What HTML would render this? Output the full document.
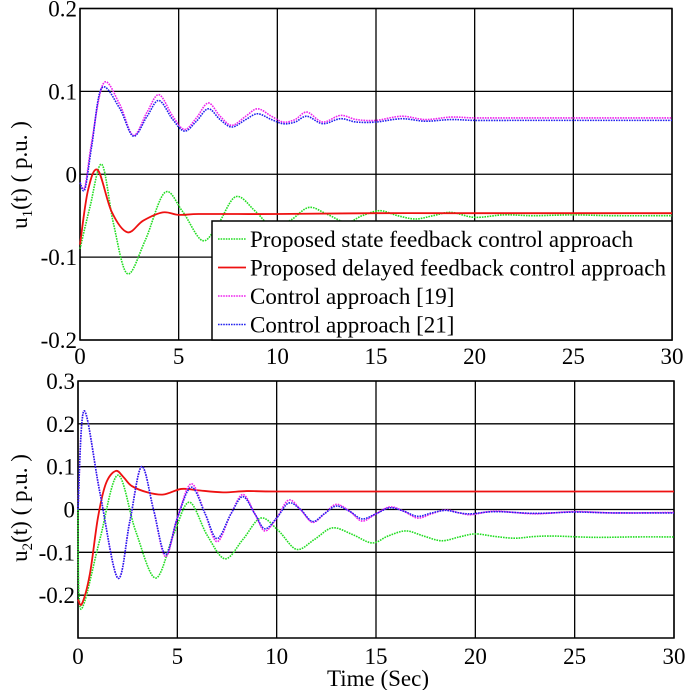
<!DOCTYPE html>
<html><head><meta charset="utf-8"><style>
body{margin:0;background:#fff}
svg{display:block;font-family:"Liberation Serif","Times New Roman",serif}
</style></head><body>
<svg id="chart" width="685" height="690">
<g id="topPlot"></g>
<g id="botPlot"></g>
</svg>
<script>
// ---- data (time, value) ----
const u1Times19 = [0,0.25,0.6,1.2,2.0,2.7,3.4,4.0,4.7,5.3,5.9,6.5,7.1,7.7,8.4,9.0,9.7,10.3,10.9,11.5,12.3,13.2,14.0,15.0,16.3,17.5,18.8,20,22,24,26,28,30];
const u1Vals19 =  [-0.01,-0.015,0.04,0.11,0.085,0.047,0.075,0.096,0.07,0.054,0.068,0.086,0.07,0.059,0.07,0.079,0.07,0.063,0.066,0.075,0.063,0.071,0.066,0.065,0.07,0.066,0.069,0.068,0.068,0.068,0.068,0.068,0.068];
const u1Times21 = [0,0.25,0.6,1.1,2.0,2.7,3.4,4.0,4.7,5.3,5.9,6.5,7.1,7.7,8.4,9.0,9.7,10.3,10.9,11.5,12.3,13.2,14.0,15.0,16.3,17.5,18.8,20,22,24,26,28,30];
const u1Vals21 =  [-0.01,-0.018,0.035,0.104,0.08,0.046,0.07,0.089,0.066,0.052,0.064,0.079,0.066,0.057,0.066,0.073,0.066,0.061,0.063,0.07,0.061,0.067,0.063,0.063,0.067,0.064,0.066,0.065,0.065,0.065,0.065,0.065,0.065];
const u1TimesGreen = [0,0.5,1.1,1.7,2.4,3.3,4.3,5.2,6.2,7.0,7.9,8.9,9.8,10.7,11.6,12.5,13.5,14.3,15.2,16.1,17.0,17.9,18.8,20,21.5,23,25,27,30];
const u1ValsGreen =  [-0.09,-0.04,0.012,-0.06,-0.12,-0.08,-0.022,-0.045,-0.08,-0.06,-0.027,-0.045,-0.065,-0.055,-0.04,-0.048,-0.058,-0.05,-0.044,-0.05,-0.054,-0.05,-0.046,-0.052,-0.049,-0.05,-0.049,-0.05,-0.05];
const u1TimesRed = [0,0.4,0.9,1.6,2.4,3.2,4.2,5.0,6,8,10,15,20,25,30];
const u1ValsRed =  [-0.085,-0.02,0.005,-0.045,-0.07,-0.056,-0.046,-0.049,-0.048,-0.048,-0.048,-0.047,-0.047,-0.047,-0.047];

const u2TimesBM = [0,0.3,1.1,2.0,2.6,3.2,3.8,4.4,5.0,5.7,6.4,7.0,7.7,8.3,8.9,9.4,10.0,10.6,11.2,11.8,12.4,13.0,13.7,14.3,15.0,15.7,16.4,17.1,17.8,18.5,19.2,19.8,21,23,25,27,30];
const u2Vals19 =  [0,0.23,0.04,-0.16,-0.03,0.1,0.0,-0.11,-0.02,0.06,-0.01,-0.075,-0.01,0.035,-0.01,-0.05,-0.02,0.022,0.0,-0.03,-0.01,0.012,-0.005,-0.027,-0.01,0.006,-0.004,-0.02,-0.01,-0.001,-0.008,-0.012,-0.004,-0.01,-0.005,-0.008,-0.007];
const u2Vals21 =  [0,0.23,0.04,-0.16,-0.03,0.1,0.0,-0.105,-0.02,0.052,-0.01,-0.068,-0.01,0.03,-0.01,-0.045,-0.02,0.015,0.0,-0.028,-0.01,0.008,-0.005,-0.022,-0.01,0.004,-0.004,-0.016,-0.008,-0.002,-0.008,-0.01,-0.005,-0.009,-0.006,-0.008,-0.008];
const u2TimesGreen = [0,0.05,0.3,1.1,2.0,2.9,3.9,4.8,5.6,6.5,7.4,8.3,9.2,10.1,11.0,11.9,12.8,13.8,14.8,15.6,16.5,17.4,18.3,19.2,20,21,22,23,24,26,28,30];
const u2ValsGreen =  [0,-0.2,-0.22,-0.07,0.08,-0.05,-0.16,-0.06,0.017,-0.06,-0.115,-0.07,-0.02,-0.05,-0.093,-0.07,-0.043,-0.058,-0.078,-0.062,-0.05,-0.062,-0.073,-0.064,-0.057,-0.063,-0.067,-0.063,-0.062,-0.065,-0.064,-0.064];
const u2TimesRed = [0,0.2,0.6,1.0,1.4,1.9,2.3,2.7,3.5,4.3,5.2,6.0,7.3,8.5,10,15,20,25,30];
const u2ValsRed =  [-0.21,-0.22,-0.15,-0.02,0.06,0.09,0.075,0.055,0.04,0.035,0.048,0.045,0.04,0.043,0.042,0.042,0.042,0.042,0.042];

const xTicks = [0,5,10,15,20,25,30];
const yTicksTop = [0.2,0.1,0,-0.1,-0.2];
const yLabelsTop = ["0.2","0.1","0","-0.1","-0.2"];
const yTicksBot = [0.3,0.2,0.1,0,-0.1,-0.2];
const yLabelsBot = ["0.3","0.2","0.1","0","-0.1","-0.2"];
const legendLabels = ["Proposed state feedback control approach","Proposed delayed feedback control approach","Control approach [19]","Control approach [21]"];

const NS="http://www.w3.org/2000/svg";
function mk(tag,attrs,parent){const e=document.createElementNS(NS,tag);for(const k in attrs)e.setAttribute(k,attrs[k]);parent.appendChild(e);return e;}
function path(ts,vs,sx,sy){
  const p=ts.map((t,i)=>[sx(t),sy(vs[i])]);
  let d="M"+p[0][0]+","+p[0][1];
  for(let i=0;i<p.length-1;i++){
    const p0=p[Math.max(0,i-1)],p1=p[i],p2=p[i+1],p3=p[Math.min(p.length-1,i+2)];
    const c1=[p1[0]+(p2[0]-p0[0])/6,p1[1]+(p2[1]-p0[1])/6];
    const c2=[p2[0]-(p3[0]-p1[0])/6,p2[1]-(p3[1]-p1[1])/6];
    d+=" C"+c1[0].toFixed(2)+","+c1[1].toFixed(2)+" "+c2[0].toFixed(2)+","+c2[1].toFixed(2)+" "+p2[0].toFixed(2)+","+p2[1].toFixed(2);
  }
  return d;
}
function axes(g,L,R,T,B,ymin,ymax,yt,ylabs,xlabY){
  const sx=t=>L+(t/30)*(R-L), sy=v=>T+(ymax-v)/(ymax-ymin)*(B-T);
  xTicks.forEach(t=>{
    const l=mk("line",{x1:sx(t),x2:sx(t),y1:T,y2:B,stroke:"#000","stroke-width":1.3},g);
    
    
    const tx=mk("text",{x:sx(t),y:xlabY,"font-size":23,"text-anchor":"middle"},g);
    tx.textContent=t;
    
    
  });
  yt.forEach((v,i)=>{
    const l=mk("line",{x1:L,x2:R,y1:sy(v),y2:sy(v),stroke:"#000","stroke-width":1.3},g);
    
    
    const tx=mk("text",{x:L-3,y:sy(v)+8,"font-size":23,"text-anchor":"end"},g);
    tx.textContent=ylabs[i];
    
    
  });
  const fr=mk("rect",{x:L,y:T,width:R-L,height:B-T,fill:"none",stroke:"#000","stroke-width":1.5},g);
  
  
  return [sx,sy];
}
function series(g,ts,vs,sx,sy,color,dotted,name){
  const a={d:path(ts,vs,sx,sy),fill:"none",stroke:color,"stroke-width":dotted?1.6:1.8};
  if(dotted)a["stroke-dasharray"]="1.6 1";
  const e=mk("path",a,g);
  
  
}
const gTop=document.getElementById("topPlot"), gBot=document.getElementById("botPlot");
const [sx1,sy1]=axes(gTop,80,672,8.5,340,-0.2,0.2,yTicksTop,yLabelsTop,364);
const gc1=mk("g",{},gTop);
series(gc1,u1TimesGreen,u1ValsGreen,sx1,sy1,"#22dd22",true,"u1-state-feedback-line");
series(gc1,u1TimesRed,u1ValsRed,sx1,sy1,"#ee1111",false,"u1-delayed-feedback-line");
series(gc1,u1Times19,u1Vals19,sx1,sy1,"#ee22ee",true,"u1-approach-19-line");
series(gc1,u1Times21,u1Vals21,sx1,sy1,"#2222ee",true,"u1-approach-21-line");
const [sx2,sy2]=axes(gBot,78,674,381,638,-0.3,0.3,yTicksBot,yLabelsBot,664);
const gc2=mk("g",{},gBot);
series(gc2,u2TimesGreen,u2ValsGreen,sx2,sy2,"#22dd22",true,"u2-state-feedback-line");
series(gc2,u2TimesRed,u2ValsRed,sx2,sy2,"#ee1111",false,"u2-delayed-feedback-line");
series(gc2,u2TimesBM,u2Vals19,sx2,sy2,"#ee22ee",true,"u2-approach-19-line");
series(gc2,u2TimesBM,u2Vals21,sx2,sy2,"#2222ee",true,"u2-approach-21-line");

// legend
const lg=mk("g",{},gTop);


mk("rect",{x:212,y:221,width:460,height:119,fill:"#fff",stroke:"#000","stroke-width":1.5},lg);
const lcol=["#22dd22","#ee1111","#ee22ee","#2222ee"];
legendLabels.forEach((s,i)=>{
  const y=239+i*28.5;
  const ln=mk("line",{x1:218,x2:246,y1:y,y2:y,stroke:lcol[i],"stroke-width":i==1?1.8:1.6},lg);
  if(i!=1)ln.setAttribute("stroke-dasharray","1.6 1");
  
  
  const t=mk("text",{x:250,y:y+8,"font-size":23,"textLength":i==1?416:null},lg);
  if(i!=1)t.removeAttribute("textLength");
  t.textContent=s;
  
  
});
// axis titles
const yt1=mk("text",{x:0,y:0,"font-size":23,"text-anchor":"middle",transform:"translate(27,175) rotate(-90)"},gTop);
yt1.innerHTML='u<tspan font-size="15" dy="5">1</tspan><tspan dy="-5">(t) ( p.u. )</tspan>';


const yt2=mk("text",{x:0,y:0,"font-size":23,"text-anchor":"middle",transform:"translate(27,508) rotate(-90)"},gBot);
yt2.innerHTML='u<tspan font-size="15" dy="5">2</tspan><tspan dy="-5">(t) ( p.u. )</tspan>';


const xt=mk("text",{x:378,y:686,"font-size":23,"text-anchor":"middle"},gBot);
xt.textContent="Time (Sec)";


</script>
</body></html>
